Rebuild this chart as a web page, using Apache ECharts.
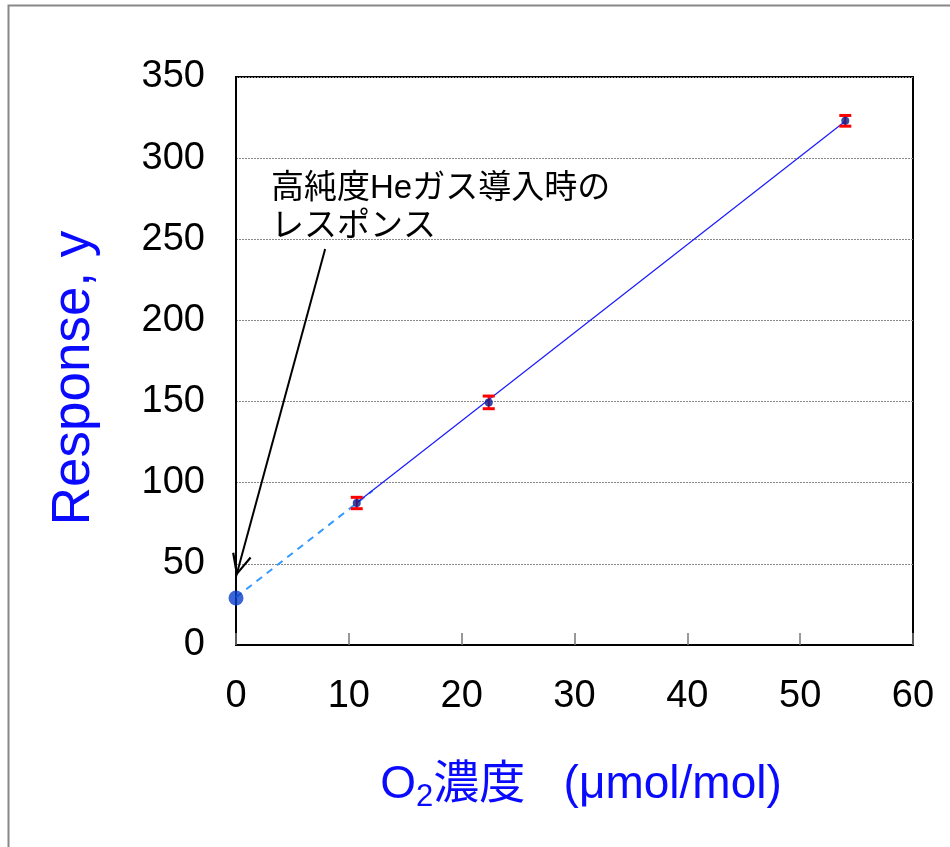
<!DOCTYPE html>
<html>
<head>
<meta charset="utf-8">
<script src="https://cdn.jsdelivr.net/npm/echarts@6/dist/echarts.min.js"></script>
<style>html,body{margin:0;padding:0;background:#fff}#c{width:950px;height:847px}</style>
</head>
<body>
<div id="c"></div>
<script>
// ---- data ----
const concentrations = [10.7, 22.4, 54.0];      // O2 µmol/mol
const responses = [87.5, 149.5, 323.0];
const errors = [3.5, 3.9, 3.3];
const blankPoint = [[0, 29.0]];                 // high-purity He response
const fitSolid = [[10.7, 87.6], [54.05, 323.0]];
const fitDashed = [[0, 29.4], [12.1, 95.0]];
const arrowFrom = [7.9, 244];
const arrowTo = [0, 42];
const xTicks = {min: 0, max: 60, interval: 10};
const yTicks = {min: 0, max: 350, interval: 50};
const annotationLines = ['高純度Heガス導入時の', 'レスポンス'];

const FONT = '"Liberation Sans", Arial, "Noto Sans CJK JP", sans-serif';
const mainPoints = concentrations.map((x, i) => [x, responses[i]]);
const errData = concentrations.map((x, i) => [x, responses[i], errors[i]]);

const chart = echarts.init(document.getElementById('c'), null, {renderer: 'canvas'});
chart.setOption({
  animation: false,
  backgroundColor: '#fff',
  grid: {left: 236, right: 37, top: 77, bottom: 202, show: true, borderColor: '#000', borderWidth: 2, containLabel: false},
  xAxis: {
    type: 'value', min: xTicks.min, max: xTicks.max, interval: xTicks.interval,
    axisLine: {show: true, onZero: false, lineStyle: {color: '#000', width: 2}},
    axisTick: {show: true, inside: true, length: 12, lineStyle: {color: '#777', width: 1.5}},
    splitLine: {show: false},
    axisLabel: {fontSize: 38, color: '#000', fontFamily: FONT, margin: 33}
  },
  yAxis: {
    type: 'value', min: yTicks.min, max: yTicks.max, interval: yTicks.interval,
    axisLine: {show: true, onZero: false, lineStyle: {color: '#000', width: 2}},
    axisTick: {show: false},
    splitLine: {show: true, lineStyle: {color: '#888', width: 1, type: [2, 1]}},
    axisLabel: {fontSize: 38, color: '#000', fontFamily: FONT, margin: 31, verticalAlign: 'middle', padding: [7, 0, 0, 0]}
  },
  graphic: [
    {type: 'rect', shape: {x: 8.5, y: 5.5, width: 1200, height: 1200}, style: {fill: 'none', stroke: '#888', lineWidth: 2}, silent: true},
    {type: 'text', x: 74, y: 378, rotation: Math.PI / 2,
      style: {text: 'Response, y', fontSize: 53, fontFamily: FONT, fill: '#0a0aff', align: 'center', verticalAlign: 'middle'}},
    {type: 'text', x: 581, y: 785,
      style: {
        text: '{a|O}{s|2}{a|濃度   (μmol/mol)}', align: 'center', verticalAlign: 'middle',
        rich: {
          a: {fontSize: 46, fontFamily: FONT, fill: '#0a0aff', lineHeight: 52},
          s: {fontSize: 31, fontFamily: FONT, fill: '#0a0aff', lineHeight: 52, padding: [24, 0, 0, 0]}
        }
      }},
    {type: 'text', x: 271, y: 170,
      style: {text: annotationLines.join('\n'), fontSize: 33, lineHeight: 38, fontFamily: FONT, fill: '#000', align: 'left', verticalAlign: 'top'}}
  ],
  series: [
    {type: 'line', data: fitDashed, showSymbol: false, symbol: 'none', lineStyle: {color: '#3399ff', width: 2, type: [7, 6]}, z: 2, silent: true},
    {type: 'line', data: fitSolid, showSymbol: false, symbol: 'none', lineStyle: {color: '#1a1aff', width: 1.2}, z: 3, silent: true},
    {type: 'custom', data: errData, z: 4, silent: true,
      renderItem: function (params, api) {
        const x = api.value(0), y = api.value(1), e = api.value(2);
        const top = api.coord([x, y + e]);
        const bot = api.coord([x, y - e]);
        const hw = 6;
        const st = {stroke: '#ff0000', lineWidth: 3};
        return {type: 'group', children: [
          {type: 'line', shape: {x1: top[0], y1: top[1], x2: bot[0], y2: bot[1]}, style: {stroke: '#ff0000', lineWidth: 2}},
          {type: 'line', shape: {x1: top[0] - hw, y1: top[1], x2: top[0] + hw, y2: top[1]}, style: st},
          {type: 'line', shape: {x1: bot[0] - hw, y1: bot[1], x2: bot[0] + hw, y2: bot[1]}, style: st}
        ]};
      }},
    {type: 'scatter', data: mainPoints, symbol: 'circle', symbolSize: 8, itemStyle: {color: '#0a1a8c'}, z: 5, silent: true},
    {type: 'scatter', data: blankPoint, symbol: 'circle', symbolSize: 15, itemStyle: {color: '#0a3dcc'}, z: 5, silent: true,
      markLine: {
        silent: true, animation: false,
        symbol: ['none', 'path://M10 -23 L10.01 -23 L10 -22.99 Z M10 0 L20 21 L18 22 L10 5 L2 22 L0 21 Z'],
        symbolSize: [20, 46],
        label: {show: false},
        lineStyle: {color: '#000', width: 2, type: 'solid'},
        emphasis: {disabled: true},
        data: [[{coord: arrowFrom}, {coord: arrowTo}]]
      }}
  ]
});
</script>
</body>
</html>
